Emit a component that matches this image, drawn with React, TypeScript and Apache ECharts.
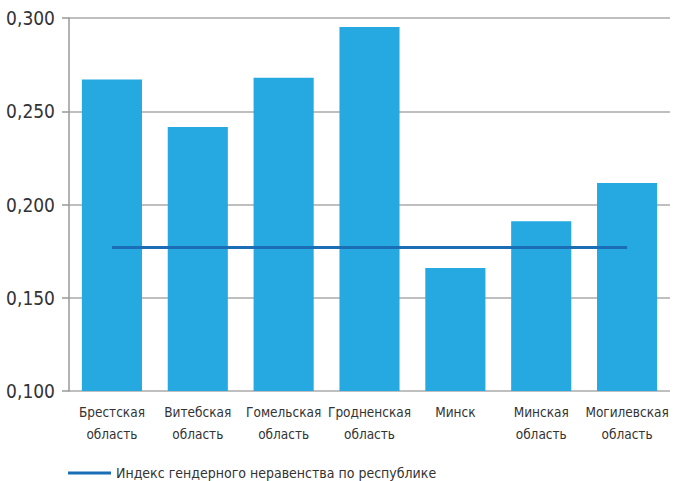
import React, { useEffect, useRef } from "react";
import * as echarts from "echarts";

const categories = [
  "Брестская\nобласть",
  "Витебская\nобласть",
  "Гомельская\nобласть",
  "Гродненская\nобласть",
  "Минск",
  "Минская\nобласть",
  "Могилевская\nобласть",
];
const regionValues = [0.267, 0.2415, 0.268, 0.2952, 0.166, 0.191, 0.2115];
const republicValues = [0.177, 0.177, 0.177, 0.177, 0.177, 0.177, 0.177];
const legendName = "Индекс гендерного неравенства по республике";

const FONT = "'Liberation Sans Narrow', 'DejaVu Sans Condensed', 'Roboto', sans-serif";

export default function App() {
  const ref = useRef<HTMLDivElement>(null);
  useEffect(() => {
    if (!ref.current) return;
    const chart = echarts.init(ref.current, null, { renderer: "svg" });
    chart.setOption({
      animation: false,
      textStyle: { fontFamily: FONT },
      grid: { left: 69, right: 6, top: 18, bottom: 90, containLabel: false },
      legend: {
        data: [{ name: legendName, icon: "rect" }],
        left: 68,
        top: 466,
        padding: 0,
        itemWidth: 43,
        itemHeight: 3,
        itemGap: 8,
        textStyle: { fontFamily: FONT, fontSize: 14, color: "#333" },
      },
      xAxis: {
        type: "category",
        data: categories,
        boundaryGap: true,
        axisLine: { show: false },
        axisTick: { show: false },
        axisLabel: {
          fontFamily: FONT,
          fontSize: 13.5,
          color: "#333",
          lineHeight: 22,
          margin: 10,
          interval: 0,
        },
      },
      yAxis: {
        type: "value",
        min: 0.1,
        max: 0.3,
        interval: 0.05,
        axisLine: { show: true, lineStyle: { color: "#999", width: 1.5 } },
        axisTick: { show: true, length: 7, lineStyle: { color: "#999", width: 1.5 } },
        splitLine: { show: true, lineStyle: { color: "#aaa", width: 1.5 } },
        axisLabel: {
          fontFamily: FONT,
          fontSize: 19,
          color: "#333",
          margin: 14,
          formatter: (v: number) => v.toFixed(3).replace(".", ","),
        },
      },
      series: [
        {
          type: "bar",
          name: "regions",
          data: regionValues,
          barWidth: "70%",
          itemStyle: { color: "#25a9e0" },
        },
        {
          type: "line",
          name: legendName,
          data: republicValues,
          symbol: "none",
          lineStyle: { color: "#1b6db5", width: 3 },
          itemStyle: { color: "#1b6db5" },
        },
      ],
    });
    return () => chart.dispose();
  }, []);
  return <div ref={ref} style={{ width: 676, height: 481, position: "absolute", left: 0, top: 0 }} />;
}
